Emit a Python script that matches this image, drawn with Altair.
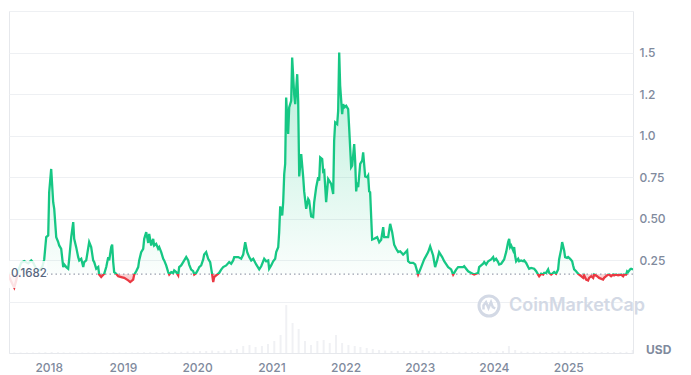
import altair as alt
import pandas as pd

# ---------------- data ----------------
price_years = [
    2017.412, 2017.439, 2017.466, 2017.507, 2017.534, 2017.561, 2017.588, 2017.628, 2017.668, 2017.722,
    2017.763, 2017.790, 2017.830, 2017.871, 2017.911, 2017.938, 2017.965, 2017.992,
    2018.005, 2018.032, 2018.059, 2018.073, 2018.100, 2018.127, 2018.140, 2018.167, 2018.194, 2018.208,
    2018.235, 2018.261, 2018.275, 2018.302, 2018.329, 2018.342, 2018.369, 2018.396, 2018.410, 2018.437,
    2018.464, 2018.477, 2018.504, 2018.544, 2018.571, 2018.598, 2018.612, 2018.639, 2018.666, 2018.679,
    2018.706, 2018.747, 2018.774, 2018.801, 2018.814, 2018.841, 2018.854, 2018.868, 2018.881, 2018.908,
    2018.935, 2018.976,
    2019.016, 2019.070, 2019.097, 2019.137, 2019.151, 2019.178, 2019.205, 2019.218, 2019.245, 2019.272,
    2019.286, 2019.313, 2019.340, 2019.353, 2019.380, 2019.407, 2019.420, 2019.447, 2019.474, 2019.488,
    2019.515, 2019.542, 2019.555, 2019.582, 2019.609, 2019.623, 2019.650, 2019.677, 2019.690, 2019.717,
    2019.744, 2019.757, 2019.784, 2019.811, 2019.825, 2019.852, 2019.879, 2019.892, 2019.919, 2019.946,
    2019.960, 2019.986,
    2020.013, 2020.027, 2020.054, 2020.081, 2020.094, 2020.121, 2020.148, 2020.175, 2020.202, 2020.216,
    2020.229, 2020.256, 2020.296, 2020.323, 2020.350, 2020.391, 2020.431, 2020.458, 2020.485, 2020.499,
    2020.553, 2020.593, 2020.620, 2020.647, 2020.674, 2020.701, 2020.728, 2020.755, 2020.795, 2020.836,
    2020.863, 2020.903, 2020.930, 2020.957, 2020.970, 2020.997,
    2021.024, 2021.051, 2021.065, 2021.092, 2021.105, 2021.119, 2021.146, 2021.159, 2021.173, 2021.186,
    2021.199, 2021.226, 2021.240, 2021.267, 2021.280, 2021.307, 2021.321, 2021.348, 2021.361, 2021.375,
    2021.402, 2021.429, 2021.442, 2021.469, 2021.496, 2021.509, 2021.536, 2021.563, 2021.577, 2021.604,
    2021.631, 2021.644, 2021.658, 2021.685, 2021.698, 2021.712, 2021.738, 2021.765, 2021.779, 2021.806,
    2021.833, 2021.846, 2021.860, 2021.887, 2021.900, 2021.914, 2021.927, 2021.954, 2021.968, 2021.981,
    2022.008, 2022.035, 2022.048, 2022.075, 2022.089, 2022.116, 2022.129, 2022.143, 2022.156, 2022.170,
    2022.197, 2022.224, 2022.237, 2022.264, 2022.291, 2022.304, 2022.318, 2022.331, 2022.358, 2022.385,
    2022.426, 2022.453, 2022.480, 2022.507, 2022.520, 2022.574, 2022.601, 2022.628, 2022.655, 2022.682,
    2022.709, 2022.736, 2022.776, 2022.790, 2022.830, 2022.843, 2022.870, 2022.911, 2022.938, 2022.978,
    2022.992,
    2023.019, 2023.059, 2023.113, 2023.140, 2023.180, 2023.207, 2023.234, 2023.261, 2023.302, 2023.329,
    2023.383, 2023.423, 2023.450, 2023.490, 2023.517, 2023.585, 2023.598, 2023.652, 2023.693, 2023.733,
    2023.787, 2023.800, 2023.854, 2023.868, 2023.895, 2023.922, 2023.962, 2023.989,
    2024.003, 2024.029, 2024.056, 2024.070, 2024.097, 2024.137, 2024.164, 2024.191, 2024.205, 2024.218,
    2024.232, 2024.259, 2024.272, 2024.286, 2024.299, 2024.326, 2024.339, 2024.366, 2024.393, 2024.407,
    2024.434, 2024.461, 2024.474, 2024.501, 2024.542, 2024.569, 2024.595, 2024.609, 2024.636, 2024.663,
    2024.676, 2024.703, 2024.730, 2024.744, 2024.771, 2024.811, 2024.838, 2024.865, 2024.878, 2024.905,
    2024.919, 2024.946, 2024.959, 2024.986,
    2025.000, 2025.027, 2025.054, 2025.067, 2025.081, 2025.107, 2025.134, 2025.148, 2025.175, 2025.202,
    2025.215, 2025.242, 2025.269, 2025.283, 2025.310, 2025.337, 2025.350, 2025.390, 2025.417, 2025.471,
    2025.485, 2025.512, 2025.539, 2025.552, 2025.579, 2025.606, 2025.620, 2025.646, 2025.673, 2025.714,
    2025.741, 2025.754, 2025.781, 2025.795, 2025.808, 2025.835, 2025.849, 2025.876,
]
price_usd = [
    0.246, 0.196, 0.150, 0.110, 0.087, 0.130, 0.190, 0.236, 0.246, 0.232,
    0.250, 0.236, 0.200, 0.190, 0.210, 0.256, 0.390, 0.400,
    0.660, 0.800, 0.600, 0.560, 0.390, 0.360, 0.340, 0.320, 0.210, 0.225,
    0.210, 0.200, 0.260, 0.390, 0.480, 0.380, 0.330, 0.270, 0.250, 0.260,
    0.210, 0.240, 0.250, 0.360, 0.330, 0.250, 0.240, 0.200, 0.210, 0.165,
    0.150, 0.170, 0.210, 0.270, 0.250, 0.330, 0.345, 0.240, 0.180, 0.170,
    0.155, 0.150,
    0.145, 0.130, 0.120, 0.135, 0.165, 0.185, 0.210, 0.250, 0.300, 0.320,
    0.380, 0.420, 0.355, 0.410, 0.340, 0.380, 0.340, 0.350, 0.320, 0.330,
    0.300, 0.260, 0.250, 0.220, 0.180, 0.165, 0.180, 0.175, 0.190, 0.180,
    0.160, 0.210, 0.220, 0.240, 0.250, 0.270, 0.250, 0.225, 0.195, 0.185,
    0.165, 0.175,
    0.195, 0.210, 0.220, 0.256, 0.285, 0.300, 0.260, 0.240, 0.165, 0.120,
    0.150, 0.160, 0.175, 0.195, 0.210, 0.220, 0.240, 0.230, 0.250, 0.270,
    0.270, 0.260, 0.285, 0.360, 0.300, 0.270, 0.250, 0.260, 0.226, 0.196,
    0.215, 0.260, 0.245, 0.250, 0.200, 0.220,
    0.245, 0.260, 0.300, 0.330, 0.420, 0.575, 0.520, 0.600, 0.770, 0.830,
    1.230, 1.010, 1.170, 1.210, 1.470, 1.250, 1.190, 1.370, 1.210, 0.755,
    0.890, 0.750, 0.665, 0.560, 0.620, 0.610, 0.515, 0.510, 0.600, 0.690,
    0.750, 0.730, 0.870, 0.860, 0.785, 0.790, 0.600, 0.740, 0.730, 0.710,
    0.650, 0.970, 1.080, 1.070, 1.150, 1.500, 1.300, 1.130, 1.190, 1.170,
    1.180, 1.160, 1.050, 0.810, 0.820, 0.950, 0.850, 0.665, 0.720, 0.690,
    0.830, 0.850, 0.900, 0.755, 0.750, 0.760, 0.665, 0.660, 0.375, 0.380,
    0.390, 0.360, 0.375, 0.450, 0.390, 0.390, 0.470, 0.420, 0.345, 0.320,
    0.300, 0.305, 0.285, 0.290, 0.310, 0.245, 0.235, 0.235, 0.226, 0.165,
    0.180,
    0.210, 0.256, 0.300, 0.335, 0.280, 0.210, 0.250, 0.300, 0.270, 0.245,
    0.210, 0.196, 0.165, 0.195, 0.210, 0.210, 0.215, 0.185, 0.175, 0.165,
    0.175, 0.210, 0.230, 0.240, 0.225, 0.245, 0.256, 0.270,
    0.250, 0.260, 0.240, 0.225, 0.230, 0.256, 0.300, 0.360, 0.380, 0.330,
    0.340, 0.310, 0.330, 0.275, 0.245, 0.260, 0.245, 0.250, 0.245, 0.250,
    0.235, 0.210, 0.200, 0.205, 0.200, 0.185, 0.165, 0.155, 0.170, 0.165,
    0.175, 0.175, 0.196, 0.175, 0.165, 0.180, 0.170, 0.196, 0.256, 0.315,
    0.360, 0.310, 0.270, 0.265,
    0.270, 0.260, 0.245, 0.220, 0.196, 0.185, 0.170, 0.165, 0.155, 0.145,
    0.160, 0.135, 0.130, 0.145, 0.155, 0.145, 0.165, 0.155, 0.145, 0.135,
    0.145, 0.155, 0.165, 0.165, 0.155, 0.165, 0.160, 0.165, 0.160, 0.165,
    0.155, 0.165, 0.165, 0.185, 0.180, 0.196, 0.200, 0.196,
]

# monthly trading volume, relative units (at the bottom), Jul 2017 .. Nov 2025
volume_rel = [
    0.5, 0.5, 0.5, 0.5, 0.6, 0.8,
    1.0, 0.8, 0.6, 0.5, 0.5, 0.5, 0.5, 0.5, 0.5, 0.5, 0.5, 0.5,
    0.5, 0.5, 0.6, 0.8, 0.8, 0.8, 1.0, 1.2, 1.2, 1.2, 1.5, 1.5,
    2.0, 2.0, 2.5, 2.0, 2.5, 3.0, 4.0, 7.0, 8.0, 6.0, 7.0, 9.0,
    12.0, 18.0, 48.0, 30.0, 24.0, 12.0, 8.0, 12.0, 13.0, 10.0, 18.0, 10.0,
    8.0, 7.0, 6.0, 5.0, 4.0, 3.0, 2.5, 2.0, 2.0, 2.0, 2.0, 1.8,
    3.0, 2.0, 1.5, 1.5, 1.2, 1.2, 1.2, 1.2, 1.0, 1.0, 1.2, 1.5,
    1.5, 2.0, 7.0, 3.0, 1.5, 1.2, 1.2, 1.2, 1.0, 1.0, 1.5, 2.0,
    1.5, 1.2, 1.2, 1.0, 1.0, 1.0, 1.0, 1.0, 1.0, 1.2, 3.0,
]
volume_months = pd.date_range("2017-07-01", periods=len(volume_rel), freq="MS") + pd.Timedelta(days=14)

BASELINE = 0.1682
BASELINE_LABEL = "0.1682"
tick_years = [2018, 2019, 2020, 2021, 2022, 2023, 2024, 2025]
y_tick_values = [0, 0.25, 0.5, 0.75, 1.0, 1.25, 1.5, 1.75]
y_tick_labels = ["", "0.25", "0.50", "0.75", "1.0", "1.2", "1.5", ""]
unit_label = "USD"
watermark = "CoinMarketCap"

# ---------------- build tables ----------------
def to_ts(y):
    return pd.Timestamp("2018-01-01") + pd.Timedelta(days=(y - 2018.0) * 365.25)

price_df = pd.DataFrame({"date": [to_ts(y) for y in price_years], "price": price_usd})
vol_df = pd.DataFrame({"date": volume_months, "vol": volume_rel})
one = pd.DataFrame({"a": [0]})

W, H = 624, 342
BAND = 51  # px of the volume band under the price zero line

GREEN = "#16c784"
RED = "#ea3943"

pmax, pmin = max(price_usd), min(price_usd)
k = (pmax - BASELINE) / (pmax - pmin)

line_grad = alt.Gradient(
    gradient="linear", x1=0, x2=0, y1=0, y2=1,
    stops=[alt.GradientStop(offset=0, color=GREEN), alt.GradientStop(offset=k, color=GREEN),
           alt.GradientStop(offset=k, color=RED), alt.GradientStop(offset=1, color=RED)],
)
area_grad = alt.Gradient(
    gradient="linear", x1=0, x2=0, y1=0, y2=1,
    stops=[alt.GradientStop(offset=0, color="rgba(22,199,132,0.30)"),
           alt.GradientStop(offset=k, color="rgba(22,199,132,0.02)"),
           alt.GradientStop(offset=k, color="rgba(234,57,67,0.20)"),
           alt.GradientStop(offset=1, color="rgba(234,57,67,0.38)")],
)

ymax = 1.75
ymin = -ymax * BAND / (H - BAND)
price_scale = alt.Scale(domain=[ymin, ymax], nice=False, zero=False)
x_scale = alt.Scale(domain=[alt.DateTime(year=2017, month=6, date=19),
                            alt.DateTime(year=2025, month=11, date=16)], padding=0)

label_expr = " : ".join(
    f"datum.value == {v} ? '{l}'" for v, l in zip(y_tick_values, y_tick_labels)
) + " : ''"

x_enc = alt.X("date:T", scale=x_scale, title=None,
              axis=alt.Axis(values=[alt.DateTime(year=y, month=1, date=1) for y in tick_years],
                            format="%Y", grid=False, ticks=False, labelPadding=9,
                            domainColor="#e6e8ec", labelColor="#808a9d", labelFontSize=12,
                            labelFont="Inter", labelFontWeight=500))

vmax_dom = max(volume_rel) / 0.94 * H / BAND
volume = alt.Chart(vol_df).mark_bar(size=2, color="#f0f1f4", clip=True).encode(
    x=x_enc,
    y=alt.Y("vol:Q", scale=alt.Scale(domain=[0, vmax_dom], nice=False), axis=None),
)

area = alt.Chart(price_df).mark_area(fill=area_grad, clip=True).encode(
    x=x_enc,
    y=alt.Y("price:Q", scale=price_scale, title=None,
            axis=alt.Axis(orient="right", values=y_tick_values, labelExpr=label_expr,
                          grid=True, gridColor="#eef0f3", ticks=False, domain=False,
                          labelPadding=6, labelColor="#808a9d", labelFontSize=12,
                          labelFont="Inter", labelFontWeight=500, labelAlign="left")),
    y2=alt.Y2Datum(BASELINE),
)

rule = alt.Chart(one).mark_rule(color="#9aa0ae", strokeDash=[1.5, 3], strokeWidth=1.2).encode(
    y=alt.YDatum(BASELINE, scale=price_scale, axis=None)
)

line = alt.Chart(price_df).mark_line(stroke=line_grad, strokeWidth=2.3, clip=True).encode(
    x=x_enc, y=alt.Y("price:Q", scale=price_scale, axis=None)
)

box = alt.Chart(one).mark_rect(fill="white", opacity=0.85).encode(
    x=alt.value(0), x2=alt.value(38), y=alt.value(250), y2=alt.value(277)
)
blabel = alt.Chart(one).mark_text(align="left", baseline="middle", fontSize=11.5,
                                  color="#58667e", font="Inter", fontWeight=500).encode(
    x=alt.value(2), y=alt.YDatum(BASELINE, scale=price_scale, axis=None),
    text=alt.value(BASELINE_LABEL),
)

ring = alt.Chart(one).mark_point(shape="circle", size=400, filled=False, strokeWidth=3,
                                 color="#d3d9e5", opacity=1).encode(
    x=alt.value(480), y=alt.value(295))
wave = alt.Chart(one).mark_point(
    shape="M-0.55,0.35 L-0.55,-0.05 L-0.3,-0.38 L-0.05,0.2 L0.2,-0.38 L0.38,0.12 L0.62,0.25",
    size=400, filled=False, strokeWidth=2.5, color="#d3d9e5", opacity=1).encode(
    x=alt.value(480), y=alt.value(295))
wtext = alt.Chart(one).mark_text(align="left", baseline="middle", fontSize=18, fontWeight=600,
                                 font="Inter", color="#d3d9e5").encode(
    x=alt.value(500), y=alt.value(295), text=alt.value(watermark))

usd = alt.Chart(one).mark_text(align="left", baseline="middle", fontSize=12, fontWeight=700,
                               font="Inter", color="#808a9d").encode(
    x=alt.value(637), y=alt.value(339), text=alt.value(unit_label))

chart = alt.layer(volume, ring, wave, wtext, area, rule, line, box, blabel, usd).resolve_scale(
    y="independent"
).properties(
    width=W, height=H, padding={"left": 0, "top": 3, "right": 5, "bottom": 0}
).configure_view(stroke="#e6e8ec", strokeWidth=1)

chart.save("out.html", embed_options={"renderer": "svg", "actions": False})
